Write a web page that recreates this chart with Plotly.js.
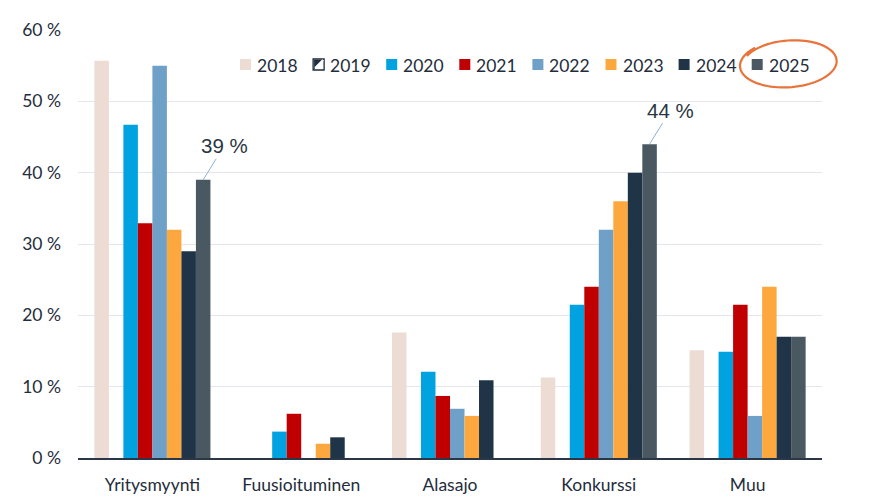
<!DOCTYPE html>
<html>
<head>
<meta charset="utf-8">
<script src="https://cdn.plot.ly/plotly-3.0.1.min.js"></script>
<style>html,body{margin:0;padding:0;background:#fff;}#chart{width:883px;height:503px;}</style>
</head>
<body>
<div id="chart"></div>
<script>
// ---- Data ----
const categories = ['Yritysmyynti', 'Fuusioituminen', 'Alasajo', 'Konkurssi', 'Muu'];
const years = ['2018', '2019', '2020', '2021', '2022', '2023', '2024', '2025'];
const v2018 = [55.7, null, 17.6, 11.3, 15.1];
const v2019 = [null, null, null, null, null];
const v2020 = [46.7, 3.7, 12.1, 21.5, 14.9];
const v2021 = [32.9, 6.2, 8.7, 24, 21.5];
const v2022 = [55, null, 6.9, 32, 5.9];
const v2023 = [32, 2.0, 5.9, 36, 24];
const v2024 = [29, 2.9, 10.9, 40, 17];
const v2025 = [39, null, null, 44, 17];
const yTicks = [0, 10, 20, 30, 40, 50, 60];
const calloutLabels = [{cat: 0, year: '2025', text: '39 %'}, {cat: 3, year: '2025', text: '44 %'}];

// ---- Styling ----
const seriesValues = [v2018, v2019, v2020, v2021, v2022, v2023, v2024, v2025];
const colors = ['#ecdcd4', '#ffffff', '#00a3e0', '#c00000', '#6fa0c8', '#fca83e', '#1f3447', '#4a5862'];
const textColor = '#1f2d3d';
const font = 'Lato, "Open Sans", sans-serif';
const W = 883, H = 503, ml = 78, mr = 61, mt = 30, mb = 45;
const pw = W - ml - mr, ph = H - mt - mb;
const bargap = 0.22;

const traces = years.map((yr, i) => {
  const t = {
    type: 'bar', name: yr, x: categories, y: seriesValues[i],
    marker: {color: colors[i], line: {width: 0}},
    showlegend: false, hoverinfo: 'x+y+name'
  };
  if (yr === '2019') {
    t.marker = {color: '#ffffff', line: {width: 1, color: '#1f2d3d'},
      pattern: {shape: '/', fgcolor: '#1f2d3d', bgcolor: '#ffffff', size: 6}};
  }
  return t;
});

// pixel -> paper helpers
const px = x => (x - ml) / pw;
const py = y => (H - mb - y) / ph;

// ---- Manual legend (compact, as in reference) ----
const shapes = [];
const annotations = [];
const legLeft = 240, legStep = 73.1, sw = 11, legY = 64.5;
years.forEach((yr, i) => {
  const x0 = legLeft + legStep * i;
  if (yr === '2019') {
    shapes.push({type: 'rect', xref: 'paper', yref: 'paper',
      x0: px(x0), x1: px(x0 + sw), y0: py(legY + sw / 2), y1: py(legY - sw / 2),
      fillcolor: '#ffffff', line: {color: '#1f2d3d', width: 1.3}});
    shapes.push({type: 'path', xref: 'paper', yref: 'paper',
      path: 'M' + px(x0 + 1) + ',' + py(legY + sw / 2 - 1) + ' L' + px(x0 + sw - 1) + ',' + py(legY - sw / 2 + 1) +
            ' L' + px(x0 + 1) + ',' + py(legY - sw / 2 + 1) + ' Z',
      fillcolor: '#1f2d3d', line: {color: '#1f2d3d', width: 0.5}});
    shapes.push({type: 'line', xref: 'paper', yref: 'paper',
      x0: px(x0 + 2), x1: px(x0 + sw - 1), y0: py(legY + sw / 2 - 2), y1: py(legY - sw / 2 + 1),
      line: {color: '#ffffff', width: 2}});
  } else {
    shapes.push({type: 'rect', xref: 'paper', yref: 'paper',
      x0: px(x0), x1: px(x0 + sw), y0: py(legY + sw / 2), y1: py(legY - sw / 2),
      fillcolor: colors[i], line: {width: 0}});
  }
  annotations.push({xref: 'paper', yref: 'paper', x: px(x0 + sw + 4), y: py(legY + 0.5),
    xanchor: 'left', yanchor: 'middle', showarrow: false, text: yr,
    font: {family: font, size: 17.5, color: textColor}});
});

// ---- Hand-drawn orange ellipse around 2025 ----
(function () {
  const cx = 789, cy = 63.5, rx = 48, ry = 23.5, rot = -4 * Math.PI / 180;
  let d = '';
  const n = 90;
  for (let k = 0; k <= n; k++) {
    const t = Math.PI * 1.15 + (2.12 * Math.PI) * k / n;
    const grow = 1 + 0.06 * (k / n) - 0.03;
    const ex = rx * grow * Math.cos(t), ey = ry * grow * Math.sin(t);
    const X = cx + ex * Math.cos(rot) - ey * Math.sin(rot);
    const Y = cy + ex * Math.sin(rot) + ey * Math.cos(rot);
    d += (k === 0 ? 'M' : ' L') + px(X).toFixed(5) + ',' + py(Y).toFixed(5);
  }
  shapes.push({type: 'path', xref: 'paper', yref: 'paper', path: d,
    line: {color: '#e8733b', width: 2.2}});
})();

// ---- Callouts ----
const groupW = 1 - bargap, barW = groupW / years.length;
calloutLabels.forEach(c => {
  const yi = years.indexOf(c.year);
  const off = -groupW / 2 + barW * (yi + 0.5);
  annotations.push({xref: 'x', yref: 'y', x: c.cat + off, y: seriesValues[yi][c.cat],
    text: c.text, showarrow: true, arrowhead: 0, arrowwidth: 1, arrowcolor: '#8fb2cf',
    ax: 21, ay: -34, standoff: 0, startstandoff: 0,
    font: {family: '"Liberation Sans", Arial, sans-serif', size: 20.5, color: '#2a3644'}});
});

const layout = {
  width: W, height: H,
  margin: {l: ml, r: mr, t: mt, b: mb, pad: 0},
  paper_bgcolor: '#ffffff', plot_bgcolor: '#ffffff',
  barmode: 'group', bargap: bargap, bargroupgap: 0,
  showlegend: false,
  xaxis: {
    type: 'category', showgrid: false, zeroline: false,
    showline: true, linecolor: '#2b3646', linewidth: 1.5,
    ticks: '', ticklabelstandoff: 10,
    tickfont: {family: font, size: 17.5, color: textColor}
  },
  yaxis: {
    range: [0, 60], tickvals: yTicks, ticktext: yTicks.map(v => v + ' %'),
    showgrid: true, gridcolor: '#e3e6ee', gridwidth: 1,
    zeroline: false, showline: false, ticks: '', ticklabelstandoff: 16,
    tickfont: {family: font, size: 17.5, color: textColor}
  },
  shapes: shapes,
  annotations: annotations,
  font: {family: font, color: textColor}
};

Plotly.newPlot('chart', traces, layout, {displayModeBar: false, staticPlot: true});
</script>
</body>
</html>
